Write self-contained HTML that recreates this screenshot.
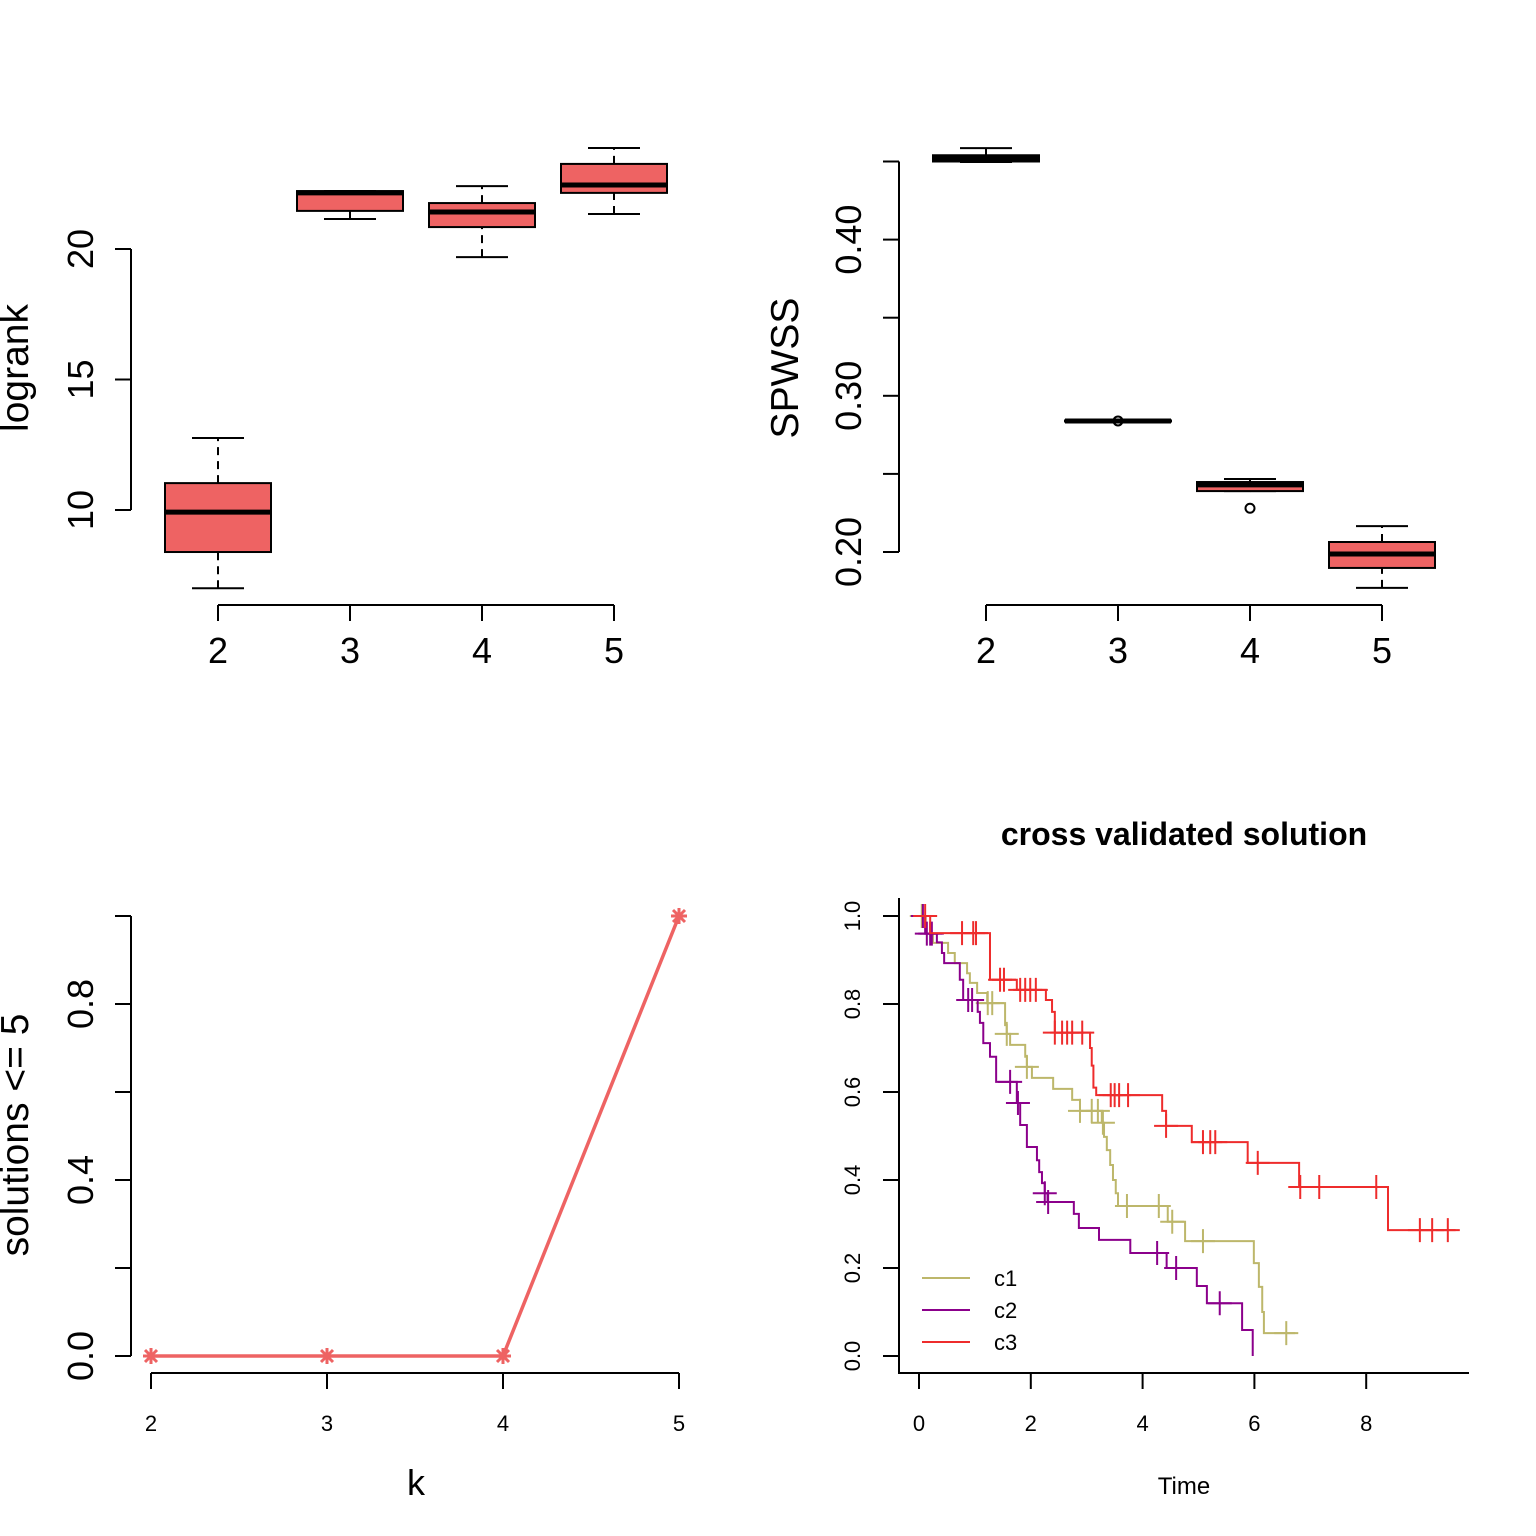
<!DOCTYPE html>
<html><head><meta charset="utf-8"><style>
html,body{margin:0;padding:0;background:#fff}
svg{display:block;font-family:"Liberation Sans",Arial,sans-serif}
</style></head><body>
<svg id="c" width="1536" height="1536" viewBox="0 0 1536 1536" xmlns="http://www.w3.org/2000/svg"></svg>
<script>
// ---- data ----
const kCats = [2, 3, 4, 5];
// logrank boxplots: [lowWhisker, q1, median, q3, highWhisker]
const logrankBoxes = [[7.0, 8.39, 9.92, 11.03, 12.76],[21.15, 21.46, 22.15, 22.22, 22.22],[19.69, 20.84, 21.42, 21.76, 22.41],[21.34, 22.15, 22.45, 23.26, 23.87]];
const logrankTicks = [10, 15, 20];
const spwssBoxes = [[0.4497, 0.450, 0.452, 0.454, 0.4586],[0.2839, 0.2836, 0.2839, 0.2842, 0.2839],[0.239, 0.239, 0.243, 0.2448, 0.2467],[0.177, 0.1898, 0.1987, 0.2064, 0.2166]];
const spwssOutliers = [[3, 0.2839],[4, 0.228]];
const spwssTicks = [0.20, 0.25, 0.30, 0.35, 0.40, 0.45];
const spwssLabels = ["0.20", "", "0.30", "", "0.40", ""];
const solValues = [0, 0, 0, 1];
const solTicks = [0, 0.2, 0.4, 0.6, 0.8, 1.0];
const solLabels = ["0.0", "", "0.4", "", "0.8", ""];
const kmXTicks = [0, 2, 4, 6, 8];
const kmYTicks = [0, 0.2, 0.4, 0.6, 0.8, 1.0];
const kmYLabels = ["0.0", "0.2", "0.4", "0.6", "0.8", "1.0"];
const c1Times = [0, 0.12, 0.25, 0.52, 0.64, 0.86, 0.91, 1.04, 1.22, 1.54, 1.57, 1.63, 1.90, 1.93, 2.02, 2.40, 2.74, 2.88, 3.27, 3.31, 3.36, 3.42, 3.47, 3.52, 3.56, 4.45, 4.76, 5.99, 6.08, 6.14, 6.17];
const c1Surv  = [1.0, 0.96, 0.939, 0.916, 0.893, 0.87, 0.848, 0.825, 0.802, 0.752, 0.732, 0.707, 0.680, 0.657, 0.632, 0.607, 0.582, 0.557, 0.530, 0.498, 0.468, 0.434, 0.40, 0.370, 0.341, 0.305, 0.261, 0.211, 0.157, 0.10, 0.052];
const c1End = 6.73;
const c1Censor = [0.05, 1.23, 1.31, 1.57, 1.93, 2.88, 3.09, 3.20, 3.29, 3.72, 4.29, 4.53, 5.08, 6.57];
const c2Times = [0, 0.11, 0.32, 0.41, 0.45, 0.73, 0.79, 1.05, 1.09, 1.15, 1.27, 1.38, 1.75, 1.81, 1.93, 2.11, 2.15, 2.20, 2.25, 2.30, 2.77, 2.86, 3.22, 3.78, 4.43, 4.97, 5.15, 5.78, 5.97];
const c2Surv  = [1.0, 0.96, 0.94, 0.916, 0.893, 0.855, 0.809, 0.782, 0.757, 0.711, 0.68, 0.623, 0.575, 0.525, 0.475, 0.445, 0.418, 0.393, 0.37, 0.35, 0.323, 0.291, 0.264, 0.234, 0.2, 0.159, 0.12, 0.059, 0.0];
const c2End = 5.97;
const c2Censor = [0.07, 0.14, 0.20, 0.23, 0.88, 0.95, 1.63, 1.77, 2.25, 2.31, 4.26, 4.60, 5.38];
const c3Times = [0, 0.2, 1.27, 1.75, 2.27, 2.38, 2.43, 3.06, 3.09, 3.12, 3.17, 4.35, 4.42, 4.88, 5.88, 6.80, 8.39];
const c3Surv  = [1.0, 0.961, 0.855, 0.832, 0.809, 0.782, 0.735, 0.70, 0.66, 0.61, 0.593, 0.557, 0.523, 0.486, 0.439, 0.384, 0.286];
const c3End = 9.6;
const c3Censor = [0.11, 0.77, 0.97, 1.02, 1.45, 1.52, 1.81, 1.90, 1.99, 2.09, 2.43, 2.56, 2.65, 2.74, 2.92, 3.43, 3.50, 3.58, 3.74, 4.42, 5.08, 5.21, 5.30, 6.06, 6.82, 7.16, 8.18, 8.96, 9.18, 9.46];
const legendLabels = ["c1", "c2", "c3"];

// ---- helpers ----
const svg = document.getElementById('c');
const NS = 'http://www.w3.org/2000/svg';
function mk(tag, attrs, parent) {
  const e = document.createElementNS(NS, tag);
  for (const k in attrs) e.setAttribute(k, attrs[k]);
  (parent || svg).appendChild(e);
  return e;
}
function txt(s, x, y, size, parent, opts) {
  opts = opts || {};
  const a = {x: x, y: y, 'font-size': size, 'text-anchor': opts.anchor || 'middle', fill: '#000'};
  if (opts.rot) a.transform = 'rotate(-90 ' + x + ' ' + y + ')';
  if (opts.bold) a['font-weight'] = 'bold';
  const t = mk('text', a, parent);
  t.textContent = s;
  return t;
}
const BOXCOL = '#EE6363';

// ---- panel 1: logrank ----
(function () {
  const g = mk('g', {});
  
  
  const xS = i => 218 + (i) * 132;
  const yS = v => 510 - (v - 10) * 26.1;
  mk('line', {x1: 131, y1: yS(10), x2: 131, y2: yS(20), stroke: '#000', 'stroke-width': 2}, g);
  logrankTicks.forEach(v => {
    mk('line', {x1: 131, y1: yS(v), x2: 115, y2: yS(v), stroke: '#000', 'stroke-width': 2}, g);
    txt(String(v), 93, yS(v), 36, g, {rot: true});
  });
  mk('line', {x1: xS(0), y1: 605, x2: xS(3), y2: 605, stroke: '#000', 'stroke-width': 2}, g);
  kCats.forEach((k, i) => {
    mk('line', {x1: xS(i), y1: 605, x2: xS(i), y2: 621, stroke: '#000', 'stroke-width': 2}, g);
    txt(String(k), xS(i), 663, 36, g);
  });
  txt('logrank', 28, 368, 39, g, {rot: true});
  logrankBoxes.forEach((b, i) => {
    const bg = mk('g', {}, g);
    
    
    const cx = xS(i), hw = 53;
    mk('line', {x1: cx, y1: yS(b[0]), x2: cx, y2: yS(b[1]), stroke: '#000', 'stroke-width': 2, 'stroke-dasharray': '8,6'}, bg);
    mk('line', {x1: cx, y1: yS(b[3]), x2: cx, y2: yS(b[4]), stroke: '#000', 'stroke-width': 2, 'stroke-dasharray': '8,6'}, bg);
    mk('line', {x1: cx - 26, y1: yS(b[0]), x2: cx + 26, y2: yS(b[0]), stroke: '#000', 'stroke-width': 2}, bg);
    mk('line', {x1: cx - 26, y1: yS(b[4]), x2: cx + 26, y2: yS(b[4]), stroke: '#000', 'stroke-width': 2}, bg);
    mk('rect', {x: cx - hw, y: yS(b[3]), width: 2 * hw, height: yS(b[1]) - yS(b[3]), fill: BOXCOL, stroke: '#000', 'stroke-width': 2}, bg);
    mk('line', {x1: cx - hw, y1: yS(b[2]), x2: cx + hw, y2: yS(b[2]), stroke: '#000', 'stroke-width': 5}, bg);
  });
})();

// ---- panel 2: SPWSS ----
(function () {
  const g = mk('g', {});
  
  
  const xS = i => 986 + i * 132;
  const yS = v => 552 - (v - 0.20) * 1562;
  mk('line', {x1: 899, y1: yS(0.20), x2: 899, y2: yS(0.45), stroke: '#000', 'stroke-width': 2}, g);
  spwssTicks.forEach((v, j) => {
    mk('line', {x1: 899, y1: yS(v), x2: 883, y2: yS(v), stroke: '#000', 'stroke-width': 2}, g);
    if (spwssLabels[j]) txt(spwssLabels[j], 861, yS(v), 36, g, {rot: true});
  });
  mk('line', {x1: xS(0), y1: 605, x2: xS(3), y2: 605, stroke: '#000', 'stroke-width': 2}, g);
  kCats.forEach((k, i) => {
    mk('line', {x1: xS(i), y1: 605, x2: xS(i), y2: 621, stroke: '#000', 'stroke-width': 2}, g);
    txt(String(k), xS(i), 663, 36, g);
  });
  txt('SPWSS', 798, 368, 39, g, {rot: true});
  spwssBoxes.forEach((b, i) => {
    const bg = mk('g', {}, g);
    
    
    const cx = xS(i), hw = 53;
    mk('line', {x1: cx, y1: yS(b[0]), x2: cx, y2: yS(b[1]), stroke: '#000', 'stroke-width': 2, 'stroke-dasharray': '8,6'}, bg);
    mk('line', {x1: cx, y1: yS(b[3]), x2: cx, y2: yS(b[4]), stroke: '#000', 'stroke-width': 2, 'stroke-dasharray': '8,6'}, bg);
    mk('line', {x1: cx - 26, y1: yS(b[0]), x2: cx + 26, y2: yS(b[0]), stroke: '#000', 'stroke-width': 2}, bg);
    mk('line', {x1: cx - 26, y1: yS(b[4]), x2: cx + 26, y2: yS(b[4]), stroke: '#000', 'stroke-width': 2}, bg);
    mk('rect', {x: cx - hw, y: yS(b[3]), width: 2 * hw, height: Math.max(1, yS(b[1]) - yS(b[3])), fill: BOXCOL, stroke: '#000', 'stroke-width': 2}, bg);
    mk('line', {x1: cx - hw, y1: yS(b[2]), x2: cx + hw, y2: yS(b[2]), stroke: '#000', 'stroke-width': 5}, bg);
  });
  spwssOutliers.forEach(o => {
    const c = mk('circle', {cx: xS(kCats.indexOf(o[0])), cy: yS(o[1]), r: 4.5, fill: 'none', stroke: '#000', 'stroke-width': 2}, g);
    
    
  });
})();

// ---- panel 3: solutions <= 5 ----
(function () {
  const g = mk('g', {});
  
  
  const xS = k => 151 + (k - 2) * 176;
  const yS = v => 1356 - v * 440;
  mk('line', {x1: 131, y1: yS(0), x2: 131, y2: yS(1), stroke: '#000', 'stroke-width': 2}, g);
  solTicks.forEach((v, j) => {
    mk('line', {x1: 131, y1: yS(v), x2: 115, y2: yS(v), stroke: '#000', 'stroke-width': 2}, g);
    if (solLabels[j]) txt(solLabels[j], 93, yS(v), 36, g, {rot: true});
  });
  mk('line', {x1: xS(2), y1: 1373, x2: xS(5), y2: 1373, stroke: '#000', 'stroke-width': 2}, g);
  kCats.forEach(k => {
    mk('line', {x1: xS(k), y1: 1373, x2: xS(k), y2: 1389, stroke: '#000', 'stroke-width': 2}, g);
    txt(String(k), xS(k), 1431, 22, g);
  });
  txt('k', 416, 1495, 36, g);
  txt('solutions <= 5', 28, 1135, 39, g, {rot: true});
  const pts = kCats.map((k, i) => xS(k) + ',' + yS(solValues[i])).join(' ');
  const pl = mk('polyline', {points: pts, fill: 'none', stroke: BOXCOL, 'stroke-width': 3.5}, g);
  
  
  kCats.forEach((k, i) => {
    const x = xS(k), y = yS(solValues[i]), r = 8;
    const m = mk('g', {stroke: BOXCOL, 'stroke-width': 3}, g);
    
    
    mk('line', {x1: x - r, y1: y, x2: x + r, y2: y}, m);
    mk('line', {x1: x, y1: y - r, x2: x, y2: y + r}, m);
    mk('line', {x1: x - 6, y1: y - 6, x2: x + 6, y2: y + 6}, m);
    mk('line', {x1: x - 6, y1: y + 6, x2: x + 6, y2: y - 6}, m);
  });
})();

// ---- panel 4: KM curves ----
(function () {
  const g = mk('g', {});
  
  
  const xS = t => 919 + t * 55.9;
  const yS = v => 1356 - v * 440;
  mk('polyline', {points: '899,898 899,1373 1469,1373', fill: 'none', stroke: '#000', 'stroke-width': 2}, g);
  kmYTicks.forEach((v, j) => {
    mk('line', {x1: 899, y1: yS(v), x2: 883, y2: yS(v), stroke: '#000', 'stroke-width': 2}, g);
    txt(kmYLabels[j], 860, yS(v), 22, g, {rot: true});
  });
  kmXTicks.forEach(t => {
    mk('line', {x1: xS(t), y1: 1373, x2: xS(t), y2: 1389, stroke: '#000', 'stroke-width': 2}, g);
    txt(String(t), xS(t), 1431, 22, g);
  });
  txt('cross validated solution', 1184, 845, 32, g, {bold: true});
  txt('Time', 1184, 1494, 24, g);
  const series = [
    {n: 'c1', t: c1Times, s: c1Surv, e: c1End, c: c1Censor, col: '#BDB76B'},
    {n: 'c2', t: c2Times, s: c2Surv, e: c2End, c: c2Censor, col: '#8B008B'},
    {n: 'c3', t: c3Times, s: c3Surv, e: c3End, c: c3Censor, col: '#EE2C2C'}
  ];
  series.forEach(sr => {
    let d = 'M' + xS(sr.t[0]) + ',' + yS(sr.s[0]);
    for (let i = 1; i < sr.t.length; i++) {
      d += ' H' + xS(sr.t[i]) + ' V' + yS(sr.s[i]);
    }
    d += ' H' + xS(sr.e);
    const p = mk('path', {d: d, fill: 'none', stroke: sr.col, 'stroke-width': 2}, g);
    
    
    const survAt = t => { let v = sr.s[0]; for (let i = 0; i < sr.t.length; i++) if (sr.t[i] <= t) v = sr.s[i]; return v; };
    sr.c.forEach(t => {
      const x = xS(t), y = yS(survAt(t));
      const m = mk('path', {d: 'M' + (x - 12) + ',' + y + ' H' + (x + 12) + ' M' + x + ',' + (y - 12) + ' V' + (y + 12), stroke: sr.col, 'stroke-width': 2, fill: 'none'}, g);
      
      
    });
  });
  series.forEach((sr, i) => {
    const lg = mk('g', {}, g);
    
    
    const y = 1278 + i * 32;
    mk('line', {x1: 922, y1: y, x2: 970, y2: y, stroke: sr.col, 'stroke-width': 2}, lg);
    txt(legendLabels[i], 994, y + 8, 22, lg, {anchor: 'start'});
  });
})();
</script>
</body></html>
